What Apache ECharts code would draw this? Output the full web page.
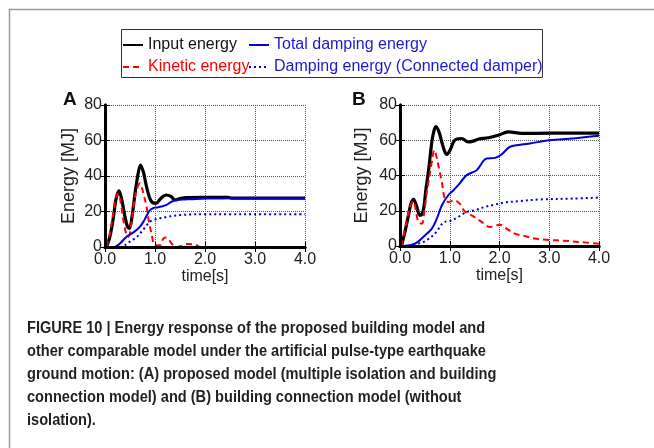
<!DOCTYPE html>
<html>
<head>
<meta charset="utf-8">
<script src="https://cdn.jsdelivr.net/npm/echarts@6/dist/echarts.min.js"></script>
<style>html,body{margin:0;padding:0;background:#fff}#c{width:654px;height:448px}</style>
</head>
<body>
<div id="c"></div>
<script>
// ---- Data (time [s], energy [MJ]) ----
var seriesNames = ['Input energy', 'Kinetic energy', 'Total damping energy', 'Damping energy (Connected damper)'];
var xTicks = [0, 1, 2, 3, 4];
var yTicks = [0, 20, 40, 60, 80];

var inputA = [[0.03,0],[0.1,6],[0.17,17],[0.22,27],[0.28,31.7],[0.34,26],[0.4,17],[0.45,11.5],[0.49,10.5],[0.54,17],[0.6,30],[0.66,41],[0.71,46.2],[0.77,42],[0.83,34],[0.92,26],[1.02,24.6],[1.12,27.5],[1.22,29.3],[1.32,28.5],[1.4,26.5],[1.5,27.3],[1.63,27.9],[2.0,28],[2.45,28],[2.55,27.5],[3.0,27.5],[3.5,27.5],[4.0,27.5]];
var kineticA = [[0.03,0],[0.1,8],[0.17,20],[0.22,28],[0.27,30.2],[0.32,24],[0.38,13],[0.43,7],[0.47,5.8],[0.52,12],[0.57,22.7],[0.63,32],[0.7,35.9],[0.76,31],[0.83,22.7],[0.88,14],[0.93,7.7],[1.0,1],[1.1,1],[1.15,4],[1.2,5.4],[1.27,4.5],[1.33,2],[1.43,0],[1.55,0.8],[1.63,1.7],[1.75,1.5],[1.83,1],[1.9,0],[4.0,0]];
var totalDampA = [[0.2,0],[0.3,2],[0.43,5.8],[0.53,7.5],[0.63,9.6],[0.7,11.5],[0.77,14.3],[0.84,18],[0.9,20.8],[0.97,22],[1.03,22.3],[1.13,22.8],[1.23,23.7],[1.33,25.5],[1.43,26.5],[1.6,26.8],[1.7,26.9],[2.03,27.3],[2.5,27.4],[3.0,27.5],[4.0,27.5]];
var connDampA = [[0.3,0],[0.37,0.5],[0.47,2.5],[0.57,4.3],[0.65,6],[0.73,8.6],[0.8,11],[0.9,14.3],[1.0,15.5],[1.1,16.2],[1.25,17],[1.37,17.5],[1.5,18],[1.7,18.3],[2.0,18.5],[2.5,18.5],[3.0,18.4],[4.0,18.4]];

var inputB = [[0.03,0],[0.1,8],[0.17,17.4],[0.22,24],[0.27,26.5],[0.33,23],[0.4,17.4],[0.44,18],[0.48,22],[0.52,32],[0.57,42],[0.64,59],[0.68,65],[0.72,67.7],[0.78,65],[0.84,59],[0.9,53.5],[0.94,52],[1.0,54],[1.1,60],[1.24,61],[1.37,59],[1.47,59.5],[1.57,60.6],[1.78,61.4],[1.98,62.9],[2.18,64.8],[2.45,63.9],[3.0,64],[3.5,64],[4.0,64]];
var kineticB = [[0.03,0],[0.13,13.6],[0.2,22],[0.27,25.4],[0.32,20],[0.37,13.6],[0.44,12.7],[0.49,20],[0.54,30.7],[0.64,47.8],[0.69,54.4],[0.73,51],[0.77,45.9],[0.84,36.4],[0.9,27],[0.97,25],[1.1,25.9],[1.2,24],[1.31,19.3],[1.44,17.4],[1.64,13.7],[1.81,10.8],[2.01,12.1],[2.14,9.9],[2.31,7],[2.51,5.7],[2.7,4.2],[3.0,3.4],[3.3,3],[3.6,2.3],[4.0,1.3]];
var totalDampB = [[0.07,0],[0.3,1.3],[0.5,6],[0.64,9.9],[0.74,15.5],[0.84,23],[0.97,28.8],[1.07,31.5],[1.17,34.5],[1.34,40.2],[1.54,43],[1.74,49.7],[1.91,50],[2.04,51.9],[2.21,56.3],[2.45,57.6],[2.61,58.2],[3.0,60],[3.48,61],[4.0,62.5]];
var connDampB = [[0.17,0],[0.3,0.8],[0.5,2.7],[0.7,7],[0.9,13.7],[1.0,14],[1.17,16.5],[1.34,19.3],[1.51,20.3],[1.71,22.2],[1.91,23.5],[2.11,24.7],[2.38,25.4],[2.81,26.4],[3.48,26.9],[4.0,27.5]];

var panelLetters = ['A', 'B'];
var caption = 'FIGURE 10 | Energy response of the proposed building model and\nother comparable model under the artificial pulse-type earthquake\nground motion: (A) proposed model (multiple isolation and building\nconnection model) and (B) building connection model (without\nisolation).';

// ---- Styles ----
var BLUE = '#0000dd';
var styles = [
  {color: '#000', width: 3.2, type: 'solid'},
  {color: '#ff0000', width: 2, type: [6, 4]},
  {color: BLUE, width: 2, type: 'solid'},
  {color: BLUE, width: 2, type: [2, 3]}
];
var FONT = 'Liberation Sans, Arial, sans-serif';

function mkSeries(name, idx, data, g) {
  return {
    name: name, type: 'line', xAxisIndex: g * 2, yAxisIndex: g * 2,
    data: data, showSymbol: false, symbol: 'none', smooth: 0.35,
    lineStyle: {color: styles[idx].color, width: styles[idx].width, type: styles[idx].type},
    itemStyle: {color: styles[idx].color},
    z: 2 + idx, animation: false
  };
}

var grids = [
  {left: 105, top: 105, width: 200, height: 142},
  {left: 400, top: 105, width: 199, height: 141}
];
var yNameGap = [27, 29];

var xAxes = [], yAxes = [];
[0, 1].forEach(function (g) {
  xAxes.push({
    type: 'value', gridIndex: g, min: 0, max: 4, interval: 1, position: 'bottom', z: 6,
    name: 'time[s]', nameLocation: 'middle', nameGap: 19,
    nameTextStyle: {fontSize: 16, color: '#222', fontFamily: FONT},
    axisLine: {show: true, lineStyle: {color: '#000', width: 3}},
    axisTick: {show: true, inside: true, length: 5, lineStyle: {color: '#000', width: 1}},
    axisLabel: {fontSize: 16, color: '#222', margin: 5, fontFamily: FONT,
      formatter: function (v) { return v.toFixed(1); }},
    splitLine: {show: false}
  });
  xAxes.push({
    type: 'value', gridIndex: g, min: 0, max: 4, interval: 1, position: 'top', z: 0,
    axisLine: {show: true, lineStyle: {color: '#000', width: 3}},
    axisTick: {show: true, inside: true, length: 5, lineStyle: {color: '#000', width: 1}},
    axisLabel: {show: false},
    splitLine: {show: true, lineStyle: {color: '#555', width: 1, type: [1, 1]}}
  });
  yAxes.push({
    type: 'value', gridIndex: g, min: 0, max: 80, interval: 20, position: 'left', z: 6,
    name: 'Energy [MJ]', nameLocation: 'middle', nameGap: yNameGap[g],
    nameTextStyle: {fontSize: 18, color: '#222', fontFamily: FONT},
    axisLine: {show: true, lineStyle: {color: '#000', width: 3}},
    axisTick: {show: true, inside: true, length: 5, lineStyle: {color: '#000', width: 1}},
    axisLabel: {fontSize: 16, color: '#222', margin: 3, fontFamily: FONT},
    splitLine: {show: false}
  });
  yAxes.push({
    type: 'value', gridIndex: g, min: 0, max: 80, interval: 20, position: 'right', z: 0,
    axisLine: {show: true, lineStyle: {color: '#000', width: 3}},
    axisTick: {show: true, inside: true, length: 5, lineStyle: {color: '#000', width: 1}},
    axisLabel: {show: false},
    splitLine: {show: true, lineStyle: {color: '#555', width: 1, type: [1, 1]}}
  });
});

var series = [
  mkSeries(seriesNames[0], 0, inputA, 0),
  mkSeries(seriesNames[1], 1, kineticA, 0),
  mkSeries(seriesNames[2], 2, totalDampA, 0),
  mkSeries(seriesNames[3], 3, connDampA, 0),
  mkSeries(seriesNames[0], 0, inputB, 1),
  mkSeries(seriesNames[1], 1, kineticB, 1),
  mkSeries(seriesNames[2], 2, totalDampB, 1),
  mkSeries(seriesNames[3], 3, connDampB, 1)
];

var legendBase = {
  orient: 'vertical', top: 37, itemWidth: 20, itemHeight: 14, itemGap: 6, padding: 0,
  selectedMode: false, textStyle: {fontSize: 16, fontFamily: FONT},
  itemStyle: {opacity: 0}
};
var legend1 = Object.assign({}, legendBase, {left: 122, data: [
  {name: seriesNames[0], textStyle: {color: '#111'}},
  {name: seriesNames[1], textStyle: {color: '#ff0000'}}
]});
var legend2 = Object.assign({}, legendBase, {left: 248, data: [
  {name: seriesNames[2], textStyle: {color: '#1a1ad0'}},
  {name: seriesNames[3], textStyle: {color: '#1a1ad0'}}
]});

var option = {
  backgroundColor: '#fff',
  animation: false,
  title: [
    {text: panelLetters[0], left: 58, top: 85, textStyle: {fontSize: 19, fontWeight: 'bold', color: '#111', fontFamily: FONT}},
    {text: panelLetters[1], left: 347, top: 85, textStyle: {fontSize: 19, fontWeight: 'bold', color: '#111', fontFamily: FONT}}
  ],
  legend: [legend1, legend2],
  grid: grids,
  xAxis: xAxes,
  yAxis: yAxes,
  series: series,
  graphic: [
    {type: 'line', shape: {x1: 9, y1: 9.5, x2: 654, y2: 9.5}, style: {stroke: '#9a9a9a', lineWidth: 1.5}, silent: true},
    {type: 'line', shape: {x1: 9.5, y1: 9, x2: 9.5, y2: 448}, style: {stroke: '#9a9a9a', lineWidth: 1.5}, silent: true},
    {type: 'rect', shape: {x: 121.5, y: 29.5, width: 421, height: 48}, style: {fill: 'none', stroke: '#333', lineWidth: 1}, silent: true, z: -1},
    {type: 'text', x: 27, y: 317, scaleX: 0.912, scaleY: 1, silent: true,
      style: {text: caption, fontSize: 16, fontWeight: 'bold', fontFamily: FONT, fill: '#231f20', lineHeight: 23,
        textAlign: 'left', textVerticalAlign: 'top'}}
  ]
};

var chart = echarts.init(document.getElementById('c'), null, {renderer: 'canvas'});
chart.setOption(option);
</script>
</body>
</html>
